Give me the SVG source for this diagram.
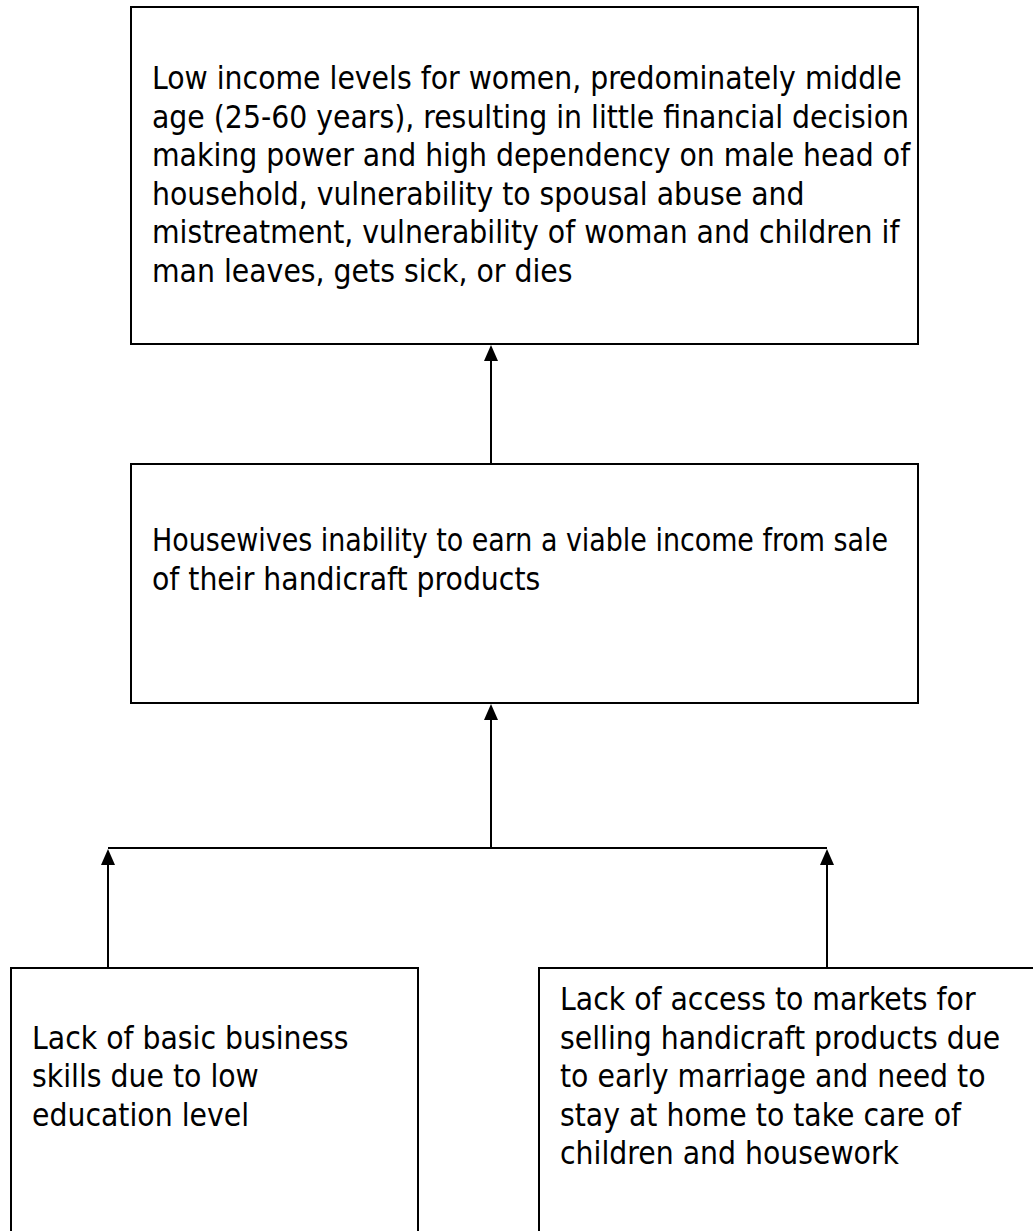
<svg xmlns="http://www.w3.org/2000/svg" width="1033" height="1231" viewBox="0 0 1033 1231">
<style>
.box{fill:#fff;stroke:#000;stroke-width:2}
.t{font-family:"DejaVu Sans Condensed","DejaVu Sans",sans-serif;font-stretch:condensed;font-size:31.5px;fill:#000}
.c{stroke:#000;stroke-width:2;fill:none}
</style>
<defs>
<path id="arr" d="M0,0 L7,16 L-7,16 Z" fill="#000"/>
</defs>
<rect width="1033" height="1231" fill="#fff"/>
<g id="n1">
<rect class="box" x="131" y="7" width="787" height="337"/>
<text class="t" x="152" y="89">Low income levels for women, predominately middle</text>
<text class="t" x="152" y="127.6">age (25-60 years), resulting in little financial decision</text>
<text class="t" x="152" y="166.2">making power and high dependency on male head of</text>
<text class="t" x="152" y="204.8">household, vulnerability to spousal abuse and</text>
<text class="t" x="152" y="243.4">mistreatment, vulnerability of woman and children if</text>
<text class="t" x="152" y="282">man leaves, gets sick, or dies</text>
</g>
<g id="n2">
<rect class="box" x="131" y="464" width="787" height="239"/>
<text class="t" x="152" y="551" textLength="736" lengthAdjust="spacingAndGlyphs">Housewives inability to earn a viable income from sale</text>
<text class="t" x="152" y="589.6">of their handicraft products</text>
</g>
<g id="n3">
<rect class="box" x="11" y="968" width="407" height="300"/>
<text class="t" x="32" y="1048.5">Lack of basic business</text>
<text class="t" x="32" y="1087">skills due to low</text>
<text class="t" x="32" y="1125.5">education level</text>
</g>
<g id="n4">
<rect class="box" x="539" y="968" width="520" height="300"/>
<text class="t" x="560" y="1010">Lack of access to markets for</text>
<text class="t" x="560" y="1048.5">selling handicraft products due</text>
<text class="t" x="560" y="1087">to early marriage and need to</text>
<text class="t" x="560" y="1125.5">stay at home to take care of</text>
<text class="t" x="560" y="1164">children and housework</text>
</g>
<g id="connectors">
<line class="c" x1="491" y1="464" x2="491" y2="352"/>
<use href="#arr" x="491" y="345"/>
<line class="c" x1="491" y1="848" x2="491" y2="711"/>
<use href="#arr" x="491" y="704"/>
<line class="c" x1="108" y1="848" x2="827" y2="848"/>
<line class="c" x1="108" y1="968" x2="108" y2="856"/>
<use href="#arr" x="108" y="849"/>
<line class="c" x1="827" y1="968" x2="827" y2="856"/>
<use href="#arr" x="827" y="849"/>
</g>
</svg>
